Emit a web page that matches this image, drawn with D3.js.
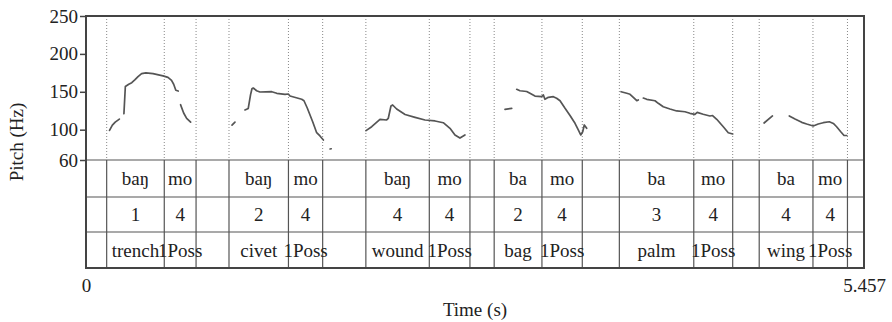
<!DOCTYPE html>
<html><head><meta charset="utf-8">
<script src="https://cdn.jsdelivr.net/npm/d3@7"></script>
<style>
body{margin:0;background:#fff;}
svg text{font-family:"Liberation Serif","Times New Roman",serif;fill:#222;}
</style></head>
<body><svg id="c" width="892" height="322"></svg>
<script>
// ---- data ----
const boundaries = [0.145,0.549,0.772,1.003,1.420,1.660,1.963,2.408,2.693,2.863,3.198,3.481,3.741,4.263,4.536,4.722,5.099,5.341];
const tierSyllables = ["","baŋ","mo","","baŋ","mo","","baŋ","mo","","ba","mo","","ba","mo","","ba","mo",""];
const tierTones = ["","1","4","","2","4","","4","4","","2","4","","3","4","","4","4",""];
const tierGloss = ["","trench","1Poss","","civet","1Poss","","wound","1Poss","","bag","1Poss","","palm","1Poss","","wing","1Poss",""];
const yTicks = [60,100,150,200,250];
const xTicks = [0,5.457];
const timeMax = 5.457;
const pitchRange = [60,250];

// pitch track segments: [time (s), pitch (Hz)]
const seg1a = [[0.165,99],[0.185,106],[0.205,110],[0.234,114]];
const seg1b = [[0.266,121],[0.276,157],[0.300,160],[0.321,162],[0.344,166],[0.365,170],[0.390,174],[0.420,175],[0.470,174],[0.540,171],[0.575,169],[0.600,165],[0.615,160],[0.630,152],[0.647,151]];
const seg1c = [[0.663,133],[0.685,122],[0.706,115],[0.734,110]];
const seg2a = [[1.024,106],[1.045,110]];
const seg2b = [[1.115,126],[1.138,128],[1.154,146],[1.164,154],[1.173,155],[1.197,151.4],[1.220,149.7],[1.303,150.1],[1.338,148],[1.396,146.7],[1.419,147.1],[1.431,144.4],[1.513,140.1],[1.529,138.2],[1.552,128.6],[1.590,110.5],[1.618,96],[1.641,91.7],[1.665,86.4]];
const seg2c = [[1.712,74.5],[1.720,74.8]];
const seg3 = [[1.964,98.7],[2.004,103.9],[2.062,113.7],[2.109,112.8],[2.120,114.8],[2.139,131.3],[2.151,132.6],[2.179,127.3],[2.238,120],[2.308,116.3],[2.378,112.8],[2.448,111.5],[2.506,109.2],[2.553,101.8],[2.588,93],[2.623,89],[2.658,93]];
const seg4a = [[2.939,126.9],[2.986,128.2]];
const seg4b = [[3.021,153.3],[3.044,151.4],[3.091,150.4],[3.114,148],[3.149,144.4],[3.196,143.5],[3.208,145.8],[3.219,140.1],[3.243,142.7],[3.278,143.5],[3.301,141.4],[3.325,138.2],[3.360,128.2],[3.395,118.7],[3.430,108.4],[3.453,99.6],[3.470,93],[3.484,97.3],[3.495,106.2],[3.512,101.8]];
const seg5a = [[3.753,150.1],[3.793,148],[3.816,146.7],[3.839,142.5],[3.863,138.2],[3.874,139.2]];
const seg5b = [[3.909,141.8],[3.933,140.1],[3.991,138.2],[4.014,134.8],[4.049,130.3],[4.096,127.3],[4.143,124.7],[4.201,123.7],[4.236,121.6],[4.271,120.3],[4.287,122.9],[4.329,120.3],[4.376,118.1],[4.395,118.7],[4.424,113.7],[4.470,103.9],[4.505,96],[4.536,94.3]];
const seg6a = [[4.756,108.8],[4.815,118.1]];
const seg6b = [[4.933,118.1],[4.973,114.1],[5.020,109.7],[5.055,107.5],[5.101,104.9],[5.136,107.5],[5.171,109.2],[5.214,110.5],[5.242,108.2],[5.265,103.9],[5.294,97.3],[5.317,92.3],[5.336,92.3]];
const pitchSegments = [seg1a,seg1b,seg1c,seg2a,seg2b,seg2c,seg3,seg4a,seg4b,seg5a,seg5b,seg6a,seg6b];

// ---- layout ----
const L=86, R=864, T=16, P=160, B=268;
const tierEdges=[160,197,232,268];
const svg=d3.select("#c");
const x=d3.scaleLinear().domain([0,timeMax]).range([L,R]);
const y=d3.scaleLinear().domain(pitchRange).range([P,T]);
const FS=19;

// dotted boundaries in pitch area
svg.append("g").selectAll("line").data(boundaries).join("line")
  .attr("x1",d=>x(d)).attr("x2",d=>x(d)).attr("y1",T).attr("y2",P)
  .attr("stroke","#888").attr("stroke-width",1).attr("stroke-dasharray","1,2");

// pitch track
const line=d3.line().x(d=>x(d[0])).y(d=>y(d[1]));
svg.append("g").selectAll("path").data(pitchSegments).join("path")
  .attr("d",line).attr("fill","none").attr("stroke","#555").attr("stroke-width",1.7)
  .attr("stroke-linejoin","round").attr("stroke-linecap","round");

// tier grid
const tg=svg.append("g").attr("stroke","#555").attr("stroke-width",1.2);
tg.selectAll("line.b").data(boundaries).join("line").attr("class","b")
  .attr("x1",d=>x(d)).attr("x2",d=>x(d)).attr("y1",P).attr("y2",B);
tg.selectAll("line.h").data(tierEdges.slice(0,3)).join("line").attr("class","h")
  .attr("x1",L).attr("x2",R).attr("y1",d=>d).attr("y2",d=>d);

// tier labels
const edges=[0,...boundaries,timeMax];
const tiers=[tierSyllables,tierTones,tierGloss];
tiers.forEach((labels,i)=>{
  const cy=(tierEdges[i]+tierEdges[i+1])/2;
  svg.append("g").selectAll("text").data(labels).join("text")
    .attr("x",(d,j)=>(x(edges[j])+x(edges[j+1]))/2)
    .attr("y",cy+6.5).attr("text-anchor","middle")
    .attr("font-size",FS).text(d=>d);
});

// frame
svg.append("rect").attr("x",L).attr("y",T).attr("width",R-L).attr("height",B-T)
  .attr("fill","none").attr("stroke","#444").attr("stroke-width",2);

// y axis
const ya=svg.append("g").attr("transform",`translate(${L},0)`)
  .call(d3.axisLeft(y).tickValues(yTicks).tickSize(6).tickPadding(2));
ya.select(".domain").remove();
ya.selectAll("line").attr("stroke","#444").attr("stroke-width",1.5);
ya.selectAll("text").attr("font-size",FS).attr("font-family","Liberation Serif").attr("fill","#222");

// x axis
const xa=svg.append("g").attr("transform",`translate(0,${B})`)
  .call(d3.axisBottom(x).tickValues(xTicks).tickSize(0).tickPadding(11).tickFormat(d=>d===0?"0":"5.457"));
xa.select(".domain").remove();
xa.selectAll("text").attr("font-size",FS).attr("font-family","Liberation Serif").attr("fill","#222");

// axis titles
svg.append("text").attr("x",(L+R)/2).attr("y",316).attr("text-anchor","middle")
  .attr("font-size",FS).text("Time (s)");
svg.append("text").attr("transform",`translate(23,${(T+B)/2}) rotate(-90)`)
  .attr("text-anchor","middle").attr("font-size",FS).text("Pitch (Hz)");
</script></body></html>
